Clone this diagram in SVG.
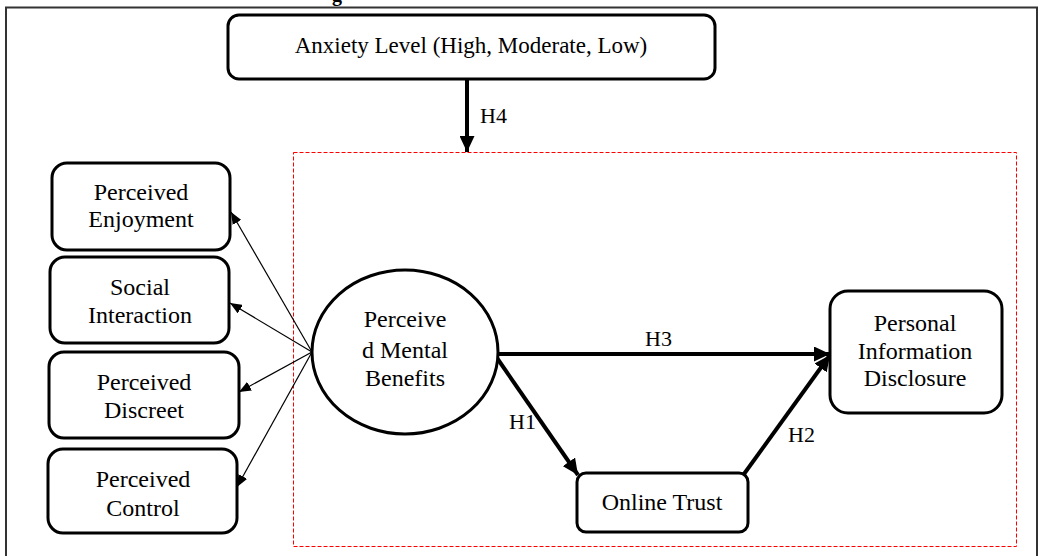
<svg xmlns="http://www.w3.org/2000/svg" width="1040" height="556" viewBox="0 0 1040 556">
<style>
.t{font-family:"Liberation Serif","Times New Roman",serif;font-size:24px;fill:#000;text-anchor:middle}
.h{font-family:"Liberation Serif","Times New Roman",serif;font-size:22px;fill:#000}
.box{fill:#fff;stroke:#000;stroke-width:3}
.thin{stroke:#000;stroke-width:1.2;fill:none}
.thick{stroke:#000;stroke-width:4;fill:none}
</style>
<defs>
<marker id="ah" markerWidth="12" markerHeight="10" refX="12" refY="5" orient="auto" markerUnits="userSpaceOnUse"><path d="M0,0 L12,5 L0,10 Z" fill="#000"/></marker>
<marker id="ahb" markerWidth="16" markerHeight="15" refX="16" refY="7.5" orient="auto" markerUnits="userSpaceOnUse"><path d="M0,0 L16,7.5 L0,15 Z" fill="#000"/></marker>
</defs>
<rect width="1040" height="556" fill="#fff"/>
<text x="337" y="1" style="font-family:'Liberation Serif',serif;font-size:20px;font-weight:bold" text-anchor="middle">g</text>
<path d="M6,560 V7.5 H1037 V560" fill="none" stroke="#333" stroke-width="2"/>
<rect x="293.5" y="152.5" width="723" height="394" fill="none" stroke="#f00" stroke-width="1" stroke-dasharray="4,2"/>
<g id="connectors">
<line class="thin" x1="312" y1="352" x2="231" y2="212" marker-end="url(#ah)"/>
<line class="thin" x1="312" y1="352" x2="230" y2="303" marker-end="url(#ah)"/>
<line class="thin" x1="312" y1="352" x2="239" y2="392" marker-end="url(#ah)"/>
<line class="thin" x1="312" y1="352" x2="237" y2="487" marker-end="url(#ah)"/>
<line class="thick" x1="467" y1="80" x2="467" y2="152" marker-end="url(#ahb)"/>
<line class="thick" x1="498" y1="354" x2="830" y2="354" marker-end="url(#ahb)"/>
<line class="thick" x1="497" y1="358" x2="578" y2="475" marker-end="url(#ahb)"/>
<line class="thick" x1="744" y1="474" x2="830" y2="355" marker-end="url(#ahb)"/>
<text class="h" x="480" y="123">H4</text>
<text class="h" x="645" y="346">H3</text>
<text class="h" x="509" y="429">H1</text>
<text class="h" x="788" y="442">H2</text>
</g>
<g id="anxiety"><rect class="box" x="228" y="15" width="487" height="64" rx="11"/><text class="t" x="471" y="53" style="font-size:23px">Anxiety Level (High, Moderate, Low)</text></g>
<g id="enjoyment"><rect class="box" x="52" y="163" width="178" height="87" rx="15"/><text class="t" x="141" y="200">Perceived</text><text class="t" x="141" y="227">Enjoyment</text></g>
<g id="social"><rect class="box" x="50" y="257" width="179" height="86" rx="15"/><text class="t" x="140" y="295">Social</text><text class="t" x="140" y="323">Interaction</text></g>
<g id="discreet"><rect class="box" x="49" y="352" width="190" height="86" rx="15"/><text class="t" x="144" y="390">Perceived</text><text class="t" x="144" y="418">Discreet</text></g>
<g id="control"><rect class="box" x="48" y="449" width="189" height="84" rx="15"/><text class="t" x="143" y="487">Perceived</text><text class="t" x="143" y="516">Control</text></g>
<g id="benefits"><ellipse class="box" cx="405" cy="352" rx="93" ry="82"/><text class="t" x="405" y="327">Perceive</text><text class="t" x="405" y="358">d Mental</text><text class="t" x="405" y="386">Benefits</text></g>
<g id="trust"><rect class="box" x="577" y="473" width="171" height="59" rx="9"/><text class="t" x="662" y="510">Online Trust</text></g>
<g id="disclosure"><rect class="box" x="830" y="291" width="172" height="122" rx="18"/><text class="t" x="915" y="331">Personal</text><text class="t" x="915" y="359">Information</text><text class="t" x="915" y="386">Disclosure</text></g>
</svg>
